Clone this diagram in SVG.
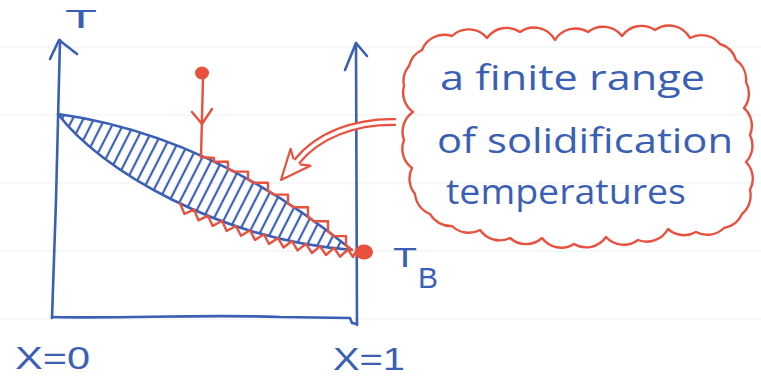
<svg xmlns="http://www.w3.org/2000/svg" width="761" height="378" viewBox="0 0 761 378">
<style>
.blue{fill:none;stroke:#3a5fb4;stroke-width:2.6;stroke-linecap:round;stroke-linejoin:round}
.red{fill:none;stroke:#e9503e;stroke-width:2.4;stroke-linecap:round;stroke-linejoin:round}
.rule{stroke:#edf0f3;stroke-width:1}
.hand{font-family:"Open Sans","DejaVu Sans",sans-serif;fill:#3a5fb4}
.lab{font-family:"Liberation Sans",Arial,sans-serif;fill:#3a5fb4}
</style>
<defs>
<pattern id="hatch" patternUnits="userSpaceOnUse" width="9.5" height="9.5" patternTransform="rotate(27)">
<line x1="4.75" y1="-1" x2="4.75" y2="11" stroke="#3a5fb4" stroke-width="2.2"/>
</pattern>
</defs>
<rect width="761" height="378" fill="#ffffff"/>
<g id="paper-rules">
<line class="rule" x1="0" y1="47" x2="761" y2="47"/>
<line class="rule" x1="0" y1="115" x2="761" y2="115"/>
<line class="rule" x1="0" y1="183" x2="761" y2="183"/>
<line class="rule" x1="0" y1="251" x2="761" y2="251"/>
<line class="rule" x1="0" y1="319" x2="761" y2="319"/>
</g>
<g id="axes">
<path class="blue" d="M60,40 L56,200 L52,318"/>
<path class="blue" d="M50,59 L59,40 L77,54"/>
<path class="blue" d="M356,43 L357,325"/>
<path class="blue" d="M345,70 L356,43 L367,56"/>
<path class="blue" d="M52,317 C120,319 200,314 280,317 L350,318 L352,323 L357,324"/>
</g>
<g id="lens">
<path d="M58,114 Q210,135 352,250 C220,240 100,170 58,114 Z" fill="url(#hatch)" stroke="#3a5fb4" stroke-width="2.6" stroke-linejoin="round"/>
</g>
<g id="solidification-range">
<path class="red" d="M201,157 L214,158 L214,161.7 L228,161.7 L228,168.6 L234,171.6 L248,171.6 L248,179.4 L254,182.8 L268,182.8 L268,190.8 L274,194.6 L288,194.6 L288,203.5 L294,207.3 L308,207.3 L308,217 L314,221.2 L328,221.2 L328,231.4 L334,236.1 L346,236.1 L346,245.4 L352,250"/>
<path class="red" d="M180,203.2 L184.5,214 L194,209.6 L198.5,220.3 L208,215.7 L212.7,226 L222,220.8 L226.7,231 L236,226 L241,235.8 L250,230.2 L255,240 L264,234.3 L269,244 L278,238.1 L283.5,247.5 L292,241 L297.5,250.4 L306,243.9 L312,253 L320,246.2 L326,255 L334,247.8 L340,256.7 L348,249.5 L353,257 L356,251"/>
<ellipse cx="364" cy="252" rx="9" ry="7.5" fill="#e9503e"/>
</g>
<g id="connectors">
<g id="cooling-path">
<ellipse cx="202" cy="73" rx="7" ry="6.5" fill="#e9503e"/>
<path class="red" d="M203,78 L201,157"/>
<path class="red" d="M192,112 L202,124 L212,109"/>
</g>
<g id="callout-arrow">
<path d="M396,122 C355,121 318,135 296.6,161.8" fill="none" stroke="#e9503e" stroke-width="8"/>
<path d="M397,122 C355,121 318,135 296.6,161.8" fill="none" stroke="#ffffff" stroke-width="3.6"/>
<polyline points="293.6,159.3 290.6,148.8 281,180 310.4,165.7 299.6,164.3" fill="#ffffff" stroke="#e9503e" stroke-width="2.2" stroke-linejoin="round"/>
</g>
</g>
<g id="cloud">
<path class="red" d="M422,50 A24,24 0 0 1 452,36 A24,24 0 0 1 487,38 A24,24 0 0 1 520,32 A24,24 0 0 1 555,40 A24,24 0 0 1 588,32 A24,24 0 0 1 622,36 A24,24 0 0 1 655,30 A24,24 0 0 1 690,38 A24,24 0 0 1 720,44 A24,24 0 0 1 736,60 A24,24 0 0 1 746,82 A24,24 0 0 1 744,108 A24,24 0 0 1 750,135 A24,24 0 0 1 746,162 A24,24 0 0 1 750,190 A24,24 0 0 1 742,214 A24,24 0 0 1 724,228 A24,24 0 0 1 696,232 A24,24 0 0 1 668,229 A24,24 0 0 1 638,240 A24,24 0 0 1 606,237 A24,24 0 0 1 574,244 A24,24 0 0 1 542,238 A24,24 0 0 1 510,238 A24,24 0 0 1 480,230 A24,24 0 0 1 452,226 A24,24 0 0 1 430,214 A24,24 0 0 1 415,194 A24,24 0 0 1 412,168 A24,24 0 0 1 404,140 A24,24 0 0 1 413,112 A24,24 0 0 1 404,86 A24,24 0 0 1 409,66 A24,24 0 0 1 422,50 Z"/>
<text class="hand" x="440" y="90" font-size="34" textLength="265" lengthAdjust="spacingAndGlyphs">a finite range</text>
<text class="hand" x="437" y="153" font-size="34" textLength="296" lengthAdjust="spacingAndGlyphs">of solidification</text>
<text class="hand" x="446" y="204" font-size="34" textLength="240" lengthAdjust="spacingAndGlyphs">temperatures</text>
</g>
<g id="labels">
<text class="lab" x="65" y="28" font-size="26" textLength="32" lengthAdjust="spacingAndGlyphs">T</text>
<text class="lab" x="393" y="267" font-size="28" textLength="24" lengthAdjust="spacingAndGlyphs">T</text>
<text class="lab" x="418" y="288" font-size="30" textLength="20" lengthAdjust="spacingAndGlyphs">B</text>
<text class="lab" x="15" y="369" font-size="32" textLength="75" lengthAdjust="spacingAndGlyphs">X=0</text>
<text class="lab" x="333" y="370" font-size="32" textLength="72" lengthAdjust="spacingAndGlyphs">X=1</text>
</g>
</svg>
